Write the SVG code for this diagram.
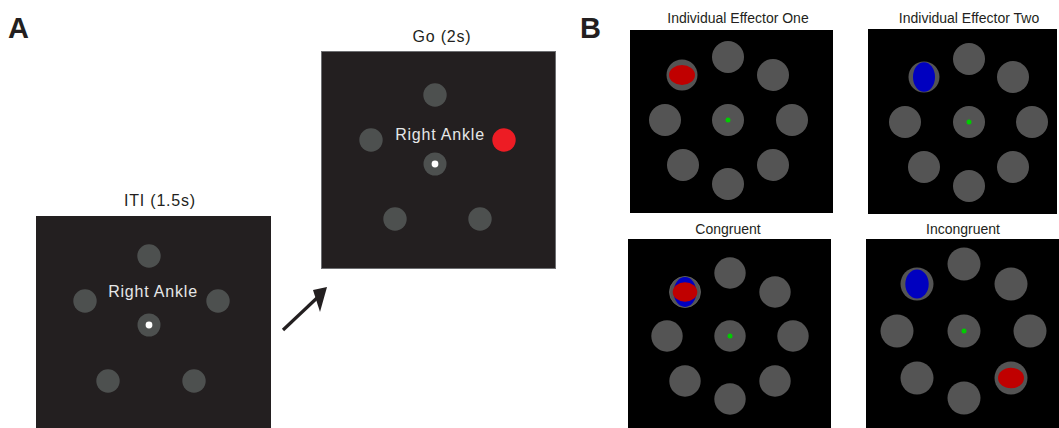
<svg xmlns="http://www.w3.org/2000/svg" width="1059" height="428" viewBox="0 0 1059 428">
  <style>
    .lbl { font-family: "Liberation Sans", Arial, sans-serif; font-weight: bold; font-size: 29px; fill: #231f20; }
    .ttlA { font-family: "Liberation Sans", Arial, sans-serif; font-size: 16px; letter-spacing: 0.8px; fill: #231f20; text-anchor: middle; }
    .cue { font-family: "Liberation Sans", Arial, sans-serif; font-size: 16px; letter-spacing: 0.8px; fill: #e6e7e8; text-anchor: middle; }
    .ttlB { font-family: "Liberation Sans", Arial, sans-serif; font-size: 14px; fill: #231f20; text-anchor: middle; }
    .scrA { fill: #231f20; }
    .tgtA { fill: #4d504f; }
    .scrB { fill: #000000; }
    .tgtB { fill: #545454; }
    .fix { fill: #00cc00; }
    .red { fill: #c00000; }
    .blue { fill: #0000c0; }
  </style>

  <!-- panel letters -->
  <text class="lbl" x="8" y="38">A</text>
  <text class="lbl" x="580" y="38">B</text>

  <!-- A: inter-trial interval screen -->
  <g id="iti">
    <text class="ttlA" x="160" y="206">ITI (1.5s)</text>
    <rect class="scrA" x="36" y="216" width="235" height="212"/>
    <circle class="tgtA" cx="149" cy="256" r="11.7"/>
    <circle class="tgtA" cx="85" cy="301" r="11.7"/>
    <circle class="tgtA" cx="218" cy="301" r="11.7"/>
    <circle class="tgtA" cx="108" cy="381" r="11.7"/>
    <circle class="tgtA" cx="194" cy="381" r="11.7"/>
    <circle class="tgtA" cx="149" cy="325" r="11.5"/>
    <circle cx="149" cy="325" r="3.4" fill="#ffffff"/>
    <text class="cue" x="153" y="297">Right Ankle</text>
  </g>

  <!-- A: go screen -->
  <g id="go">
    <text class="ttlA" x="442" y="42">Go (2s)</text>
    <rect class="scrA" x="321.5" y="51.5" width="234" height="217" stroke="#6d6e71" stroke-width="1"/>
    <circle class="tgtA" cx="435" cy="95" r="11.7"/>
    <circle class="tgtA" cx="371" cy="140" r="11.7"/>
    <circle cx="504" cy="140" r="11.7" fill="#ed1c24"/>
    <circle class="tgtA" cx="395" cy="219" r="11.7"/>
    <circle class="tgtA" cx="480" cy="219" r="11.7"/>
    <circle class="tgtA" cx="435" cy="164" r="11.5"/>
    <circle cx="435" cy="164" r="3.4" fill="#ffffff"/>
    <text class="cue" x="440" y="140">Right Ankle</text>
  </g>

  <!-- connectors -->
  <g id="connectors">
    <line x1="283" y1="330" x2="318" y2="297" stroke="#231f20" stroke-width="3.2"/>
    <polygon points="327,287 313,290 320,312" fill="#231f20"/>
  </g>

  <!-- B: individual effector one -->
  <g id="effector-one">
    <text class="ttlB" x="738" y="23">Individual Effector One</text>
    <rect class="scrB" x="630" y="30" width="203" height="183"/>
    <circle class="tgtB" cx="728" cy="57" r="16"/>
    <circle class="tgtB" cx="773" cy="75" r="16"/>
    <circle class="tgtB" cx="792" cy="120" r="16"/>
    <circle class="tgtB" cx="773" cy="165" r="16"/>
    <circle class="tgtB" cx="728" cy="184" r="16"/>
    <circle class="tgtB" cx="683" cy="165" r="16"/>
    <circle class="tgtB" cx="665" cy="120" r="16"/>
    <circle class="tgtB" cx="682" cy="75" r="15.5"/>
    <ellipse class="red" cx="682" cy="75" rx="13" ry="10"/>
    <circle class="tgtB" cx="728" cy="120" r="16"/>
    <circle class="fix" cx="728" cy="120" r="2.5"/>
  </g>

  <!-- B: individual effector two -->
  <g id="effector-two">
    <text class="ttlB" x="969" y="23">Individual Effector Two</text>
    <rect class="scrB" x="868" y="29" width="189" height="185"/>
    <circle class="tgtB" cx="969" cy="59" r="16"/>
    <circle class="tgtB" cx="1013" cy="77" r="16"/>
    <circle class="tgtB" cx="1032" cy="122" r="16"/>
    <circle class="tgtB" cx="1013" cy="167" r="16"/>
    <circle class="tgtB" cx="969" cy="186" r="16"/>
    <circle class="tgtB" cx="924" cy="167" r="16"/>
    <circle class="tgtB" cx="905" cy="122" r="16"/>
    <circle class="tgtB" cx="924" cy="77" r="15.5"/>
    <ellipse class="blue" cx="924" cy="77" rx="11" ry="14.8"/>
    <circle class="tgtB" cx="969" cy="122" r="16"/>
    <circle class="fix" cx="969" cy="122" r="2.5"/>
  </g>

  <!-- B: congruent -->
  <g id="congruent">
    <text class="ttlB" x="728" y="234">Congruent</text>
    <rect class="scrB" x="628" y="239" width="203" height="189"/>
    <circle class="tgtB" cx="730" cy="273" r="15.7"/>
    <circle class="tgtB" cx="775" cy="292" r="15.7"/>
    <circle class="tgtB" cx="793" cy="336" r="15.7"/>
    <circle class="tgtB" cx="775" cy="381" r="15.7"/>
    <circle class="tgtB" cx="730" cy="399" r="15.7"/>
    <circle class="tgtB" cx="685" cy="381" r="15.7"/>
    <circle class="tgtB" cx="667" cy="336" r="15.7"/>
    <circle class="tgtB" cx="685" cy="292" r="15.5" stroke="#666666" stroke-width="0.8"/>
    <ellipse class="blue" cx="685" cy="292" rx="11.3" ry="15"/>
    <ellipse class="red" cx="685" cy="292" rx="12.3" ry="9.7"/>
    <circle class="tgtB" cx="730" cy="336" r="15.7"/>
    <circle class="fix" cx="730" cy="336" r="2.5"/>
  </g>

  <!-- B: incongruent -->
  <g id="incongruent">
    <text class="ttlB" x="963" y="234">Incongruent</text>
    <rect class="scrB" x="866" y="239" width="193" height="189"/>
    <circle class="tgtB" cx="964" cy="264" r="16.5"/>
    <circle class="tgtB" cx="1011" cy="284" r="16.5"/>
    <circle class="tgtB" cx="1030" cy="331" r="16.5"/>
    <circle class="tgtB" cx="964" cy="398" r="16.5"/>
    <circle class="tgtB" cx="917" cy="378" r="16.5"/>
    <circle class="tgtB" cx="897" cy="331" r="16.5"/>
    <circle class="tgtB" cx="917" cy="284" r="16.5"/>
    <ellipse class="blue" cx="917" cy="284" rx="11.7" ry="14.5"/>
    <circle class="tgtB" cx="1011" cy="378" r="16.5"/>
    <ellipse class="red" cx="1011" cy="378" rx="13" ry="10.3"/>
    <circle class="tgtB" cx="964" cy="331" r="16.5"/>
    <circle class="fix" cx="964" cy="331" r="2.5"/>
  </g>
</svg>
